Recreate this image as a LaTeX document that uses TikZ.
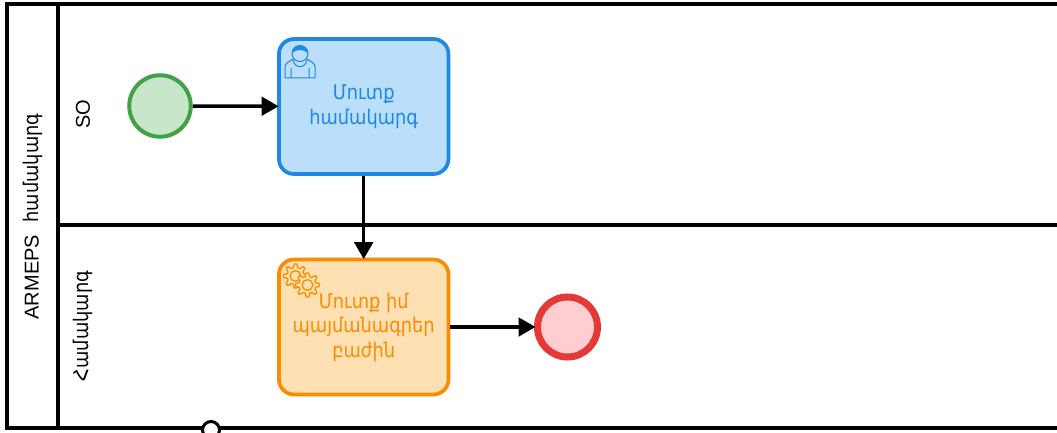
\documentclass[tikz,border=0pt]{standalone}
\usepackage{fontspec}
\setmainfont{Liberation Sans}
\newfontfamily\armfont[FakeStretch=0.88]{DejaVu Sans}
\usetikzlibrary{arrows.meta}

\definecolor{bluedraw}{HTML}{1E88E5}
\definecolor{bluefill}{HTML}{BBDEFB}
\definecolor{orangedraw}{HTML}{FB8C00}
\definecolor{orangefill}{HTML}{FFE0B2}
\definecolor{greendraw}{HTML}{43A047}
\definecolor{greenfill}{HTML}{C8E6C9}
\definecolor{reddraw}{HTML}{E53935}
\definecolor{redfill}{HTML}{FFCDD2}

\tikzset{
  task/.style={draw,rounded corners=15pt,line width=3.7pt,minimum width=169.5pt,minimum height=135pt,
    align=center,font=\fontsize{20.2}{24.5}\selectfont\armfont},
  lanetext/.style={rotate=90,font=\fontsize{20}{22}\selectfont},
  flow/.style={line width=3.5pt,shorten >=-1.5pt,-{Triangle[length=17pt,width=18.5pt]}},
  pool/.style={line width=3.5pt}
}

\def\gearicon#1#2#3{
  \draw[orangedraw,line width=1.3pt,fill=orangefill,line join=round]
    plot[samples at={5.625,16.875,...,354.375}] ({#1+#3*(1+0.18*sign(cos(8*\x)))*cos(\x)},{#2+#3*(1+0.18*sign(cos(8*\x)))*sin(\x)}) -- cycle;
  \draw[orangedraw,line width=1.3pt] (#1,#2) circle[radius=0.52*#3];
}

\begin{document}
\begin{tikzpicture}[x=1pt,y=-1pt]
  \useasboundingbox (0,0) rectangle (1057,433);

  \draw[pool] (1070,4) -- (7,4) -- (7,428) -- (1070,428);
  \coordinate (a) at (58,4);
  \coordinate (b) at (58,428);
  \coordinate (c) at (58,225);
  \coordinate (d) at (1070,225);
  \draw[pool] (a) -- (b);
  \draw[pool] (c) -- (d);
  \node[draw,circle,fill=white,line width=3pt,minimum size=17pt,inner sep=0pt] (4) at (211,430) {};

  \node[lanetext] (5) at (33,216.5) {ARMEPS\hspace{7pt} {\fontsize{20.2}{22}\selectfont\armfont համակարգ}};
  \node[lanetext] (6) at (83,114) {SO};
  \node[rotate=90,font=\fontsize{20.2}{22}\selectfont\armfont] (7) at (83,326) {Համակարգ};

  \node[draw=greendraw,fill=greenfill,circle,line width=4pt,minimum size=61.5pt,inner sep=0pt] (0) at (160,106) {};
  \node[task,draw=bluedraw,fill=bluefill,text=bluedraw] (1) at (363.7,106.5) {Մուտք\\համակարգ};
  \node[task,draw=orangedraw,fill=orangefill,text=orangedraw] (2) at (363.7,327) {Մուտք իմ\\պայմանագրեր\\բաժին};
  \node[draw=reddraw,fill=redfill,circle,line width=7pt,minimum size=60pt,inner sep=0pt] (3) at (567.5,327) {};

  % user icon
  \draw[bluedraw,line width=1pt,line join=round]
    (285,78) -- (285,67) .. controls (285,63) and (289,62) .. (293,59)
    (315,78) -- (315,67) .. controls (315,63) and (311,62) .. (307,59)
    (285,78) -- (315,78) (291,78) -- (291,68) (309,78) -- (309,68)
    (293,60) .. controls (295,69) and (305,69) .. (307,60);
  \draw[bluedraw,line width=1pt] (300,53.5) circle[radius=8pt];
  \fill[bluedraw] (292,53) .. controls (292.5,43) and (307.5,43) .. (308,53)
    .. controls (303,49) and (297,49) .. (292,53) -- cycle;

  % gears
  \gearicon{295.5}{276}{10.3}
  \gearicon{307.5}{285}{10.3}

  \draw[flow] (0) -- (1);
  \draw[flow] (1) -- (2);
  \draw[flow] (2) -- (3);
\end{tikzpicture}
\end{document}
